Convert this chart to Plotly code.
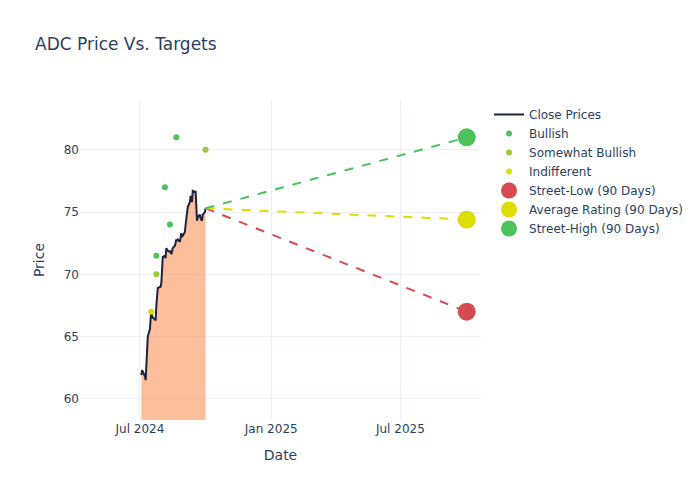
import pandas as pd
import plotly.graph_objects as go

close_dates = pd.bdate_range("2024-07-03", "2024-10-01")
close_prices = [
    61.9, 62.3, 62.2, 61.8, 61.5, 63.2, 64.1, 65.0, 65.6, 66.8,
    67.2, 66.7, 66.5, 66.4, 66.3, 67.5, 68.8, 68.9, 69.0, 69.0,
    69.3, 70.5, 71.4, 71.5, 71.3, 72.1, 72.0, 71.9, 71.8, 71.9,
    71.6, 71.8, 72.1, 72.3, 72.5, 72.8, 72.7, 72.8, 72.6, 73.0,
    73.3, 73.0, 73.1, 73.4, 74.0, 74.7, 75.0, 75.4, 75.8, 76.3,
    76.0, 75.8, 76.7, 76.6, 76.7, 75.5, 74.3, 74.6, 74.8, 74.5,
    74.4, 74.3, 74.8, 75.0, 75.3,
]

bullish_dates = ["2024-07-24", "2024-08-05", "2024-08-12", "2024-08-21"]
bullish_prices = [71.5, 77.0, 74.0, 81.0]
somewhat_dates = ["2024-07-24", "2024-10-01"]
somewhat_prices = [70.0, 80.0]
indiff_dates = ["2024-07-17"]
indiff_prices = [67.0]

target_date = "2025-10-02"
target_low = 67.0
target_avg = 74.4
target_high = 81.0

last_date = close_dates[-1]
last_price = close_prices[-1]

GREEN = "#4cc25a"
LGREEN = "#9acd32"
YELLOW = "#dede00"
RED = "#d64a52"

fig = go.Figure()
fig.add_trace(go.Scatter(x=close_dates, y=close_prices, mode="lines", showlegend=False,
                         line=dict(width=0, color="rgba(252,125,55,0.5)"), fill="tozeroy",
                         fillcolor="rgba(252,125,55,0.5)", hoverinfo="skip"))
fig.add_trace(go.Scatter(x=close_dates, y=close_prices, mode="lines", name="Close Prices",
                         line=dict(color="#1e2340", width=2)))
fig.add_trace(go.Scatter(x=bullish_dates, y=bullish_prices, mode="markers", name="Bullish",
                         marker=dict(color=GREEN, size=6)))
fig.add_trace(go.Scatter(x=somewhat_dates, y=somewhat_prices, mode="markers", name="Somewhat Bullish",
                         marker=dict(color=LGREEN, size=6)))
fig.add_trace(go.Scatter(x=indiff_dates, y=indiff_prices, mode="markers", name="Indifferent",
                         marker=dict(color=YELLOW, size=6)))
for val, col in [(target_low, RED), (target_avg, YELLOW), (target_high, GREEN)]:
    fig.add_trace(go.Scatter(x=[last_date, target_date], y=[last_price, val], mode="lines",
                             line=dict(color=col, dash="dash", width=2), showlegend=False))
fig.add_trace(go.Scatter(x=[target_date], y=[target_low], mode="markers", name="Street-Low (90 Days)",
                         marker=dict(color=RED, size=18)))
fig.add_trace(go.Scatter(x=[target_date], y=[target_avg], mode="markers", name="Average Rating (90 Days)",
                         marker=dict(color=YELLOW, size=18)))
fig.add_trace(go.Scatter(x=[target_date], y=[target_high], mode="markers", name="Street-High (90 Days)",
                         marker=dict(color=GREEN, size=18)))

fig.update_layout(
    title="ADC Price Vs. Targets",
    xaxis_title="Date",
    yaxis_title="Price",
    template="plotly_white",
    font=dict(family="DejaVu Sans"),
    width=700, height=500,
    xaxis=dict(range=["2024-04-08", "2025-10-22"], dtick="M6", tick0="2024-07-01",
               tickformat="%b %Y"),
    yaxis=dict(range=[58.3, 84.0]),
)
fig.write_html("out.html", config={"displayModeBar": False},
               post_script="document.body.style.margin='0';")
